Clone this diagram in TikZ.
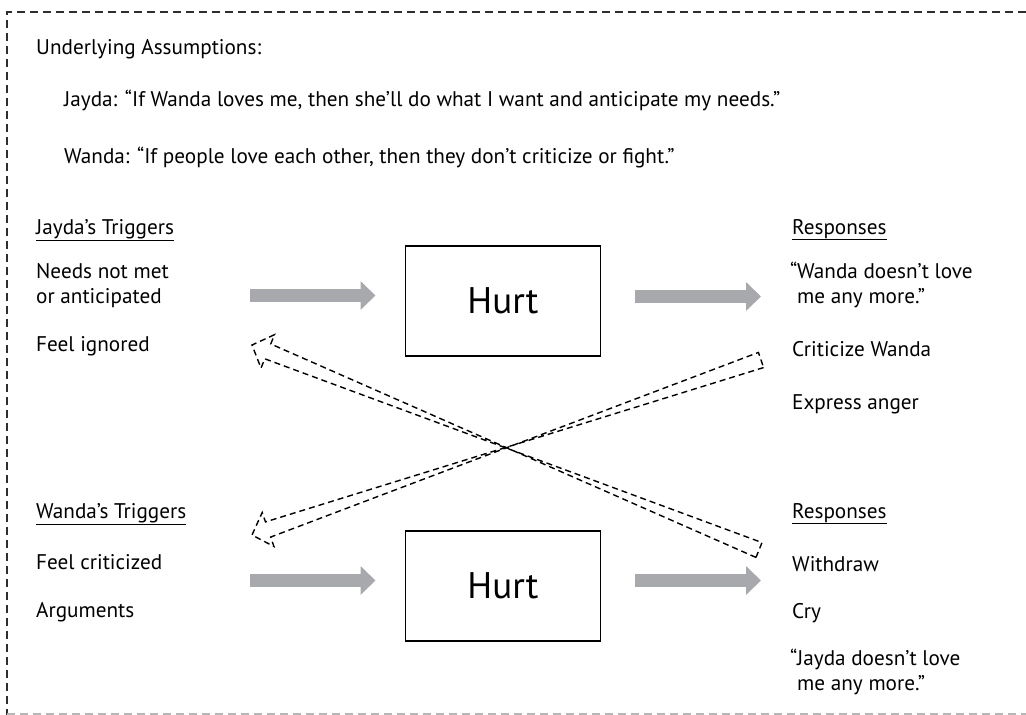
\documentclass[tikz,border=0pt]{standalone}
\usepackage{fontspec}
\setmainfont{PT Sans}
\usetikzlibrary{arrows.meta,calc}
\definecolor{flow}{HTML}{A7A9AC}
\definecolor{frame}{HTML}{2E2E2E}

% hollow dashed block arrow from tail #1 to tip #2
\newcommand\hollowarrow[2]{%
  \coordinate (hb) at ($(#2)!17pt!(#1)$);
  \draw[hollow]
    ($(#1)!8pt!90:(#2)$) -- ($(hb)!8pt!-90:(#2)$) -- ($(hb)!18pt!-90:(#2)$)
    -- (#2)
    -- ($(hb)!18pt!90:(#2)$) -- ($(hb)!8pt!90:(#2)$) -- ($(#1)!8pt!-90:(#2)$)
    -- cycle;
}

\begin{document}
\begin{tikzpicture}[x=1pt,y=-1pt,
  txt/.style={anchor=base west, inner sep=0pt, font=\fontsize{21.2}{24.5}\selectfont, align=left},
  hurtbox/.style={draw, line width=1.6pt, minimum width=195pt, minimum height=110pt,
    font=\fontsize{37}{40}\selectfont, inner sep=0pt},
  flowarrow/.style={draw=flow, line width=12.5pt, -{Triangle[length=15pt,width=28pt]}},
  hollow/.style={draw=black, dash pattern=on 6pt off 4pt, line width=1.4pt, line join=miter},
  border/.style={draw=frame, line width=2pt, dash pattern=on 8pt off 5pt}
]
\useasboundingbox (0,0) rectangle (1026,715);

% outer dashed frame
\draw[border] (1026,12) -- (7,12) -- (7,715);
\draw[border, draw=frame!35] (7,713.5) -- (1026,713.5);

% assumptions
\node[txt] (assume) at (36,54) {Underlying Assumptions:};
\node[txt] (jaydaA) at (64,106) {Jayda: “If Wanda loves me, then she’ll do what I want and anticipate my needs.”};
\node[txt] (wandaA) at (64,163) {Wanda: “If people love each other, then they don’t criticize or fight.”};

% Jayda's cycle (two-line nodes are placed by their last baseline)
\node[txt] (jtrig) at (36,234) {\underline{Jayda’s Triggers}};
\node[txt] (jneeds) at (36,303) {Needs not met\\or anticipated};
\node[txt] (jignored) at (36,351) {Feel ignored};
\node[hurtbox] (hurtJ) at (503,301) {Hurt};
\node[txt] (jresp) at (792,234) {\underline{Responses}};
\node[txt] (jlove) at (797,303) {\llap{“}Wanda doesn’t love\\me any more.”};
\node[txt] (jcrit) at (792,356) {Criticize Wanda};
\node[txt] (janger) at (792,409) {Express anger};

\coordinate (jin0) at (250,295.5);
\coordinate (jin1) at (375.5,295.5);
\coordinate (jout0) at (635,296.5);
\coordinate (jout1) at (761,296.5);
\draw[flowarrow] (jin0) -- (jin1);
\draw[flowarrow] (jout0) -- (jout1);

% Wanda's cycle
\node[txt] (wtrig) at (36,518) {\underline{Wanda’s Triggers}};
\node[txt] (wcrit) at (36,569) {Feel criticized};
\node[txt] (wargue) at (36,617) {Arguments};
\node[hurtbox] (hurtW) at (503,586) {Hurt};
\node[txt] (wresp) at (792,518) {\underline{Responses}};
\node[txt] (wwith) at (792,571) {Withdraw};
\node[txt] (wcry) at (792,618) {Cry};
\node[txt] (wlove) at (797,690) {\llap{“}Jayda doesn’t love\\me any more.”};

\coordinate (win0) at (250,580.5);
\coordinate (win1) at (375.5,580.5);
\coordinate (wout0) at (635,580.5);
\coordinate (wout1) at (761,580.5);
\draw[flowarrow] (win0) -- (win1);
\draw[flowarrow] (wout0) -- (wout1);

% crossing feedback arrows
\coordinate (fbAtail) at (759,550);
\coordinate (fbAtip) at (252,345);
\coordinate (fbBtail) at (761,360);
\coordinate (fbBtip) at (252,535);
\hollowarrow{fbAtail}{fbAtip}
\hollowarrow{fbBtail}{fbBtip}
\end{tikzpicture}
\end{document}
